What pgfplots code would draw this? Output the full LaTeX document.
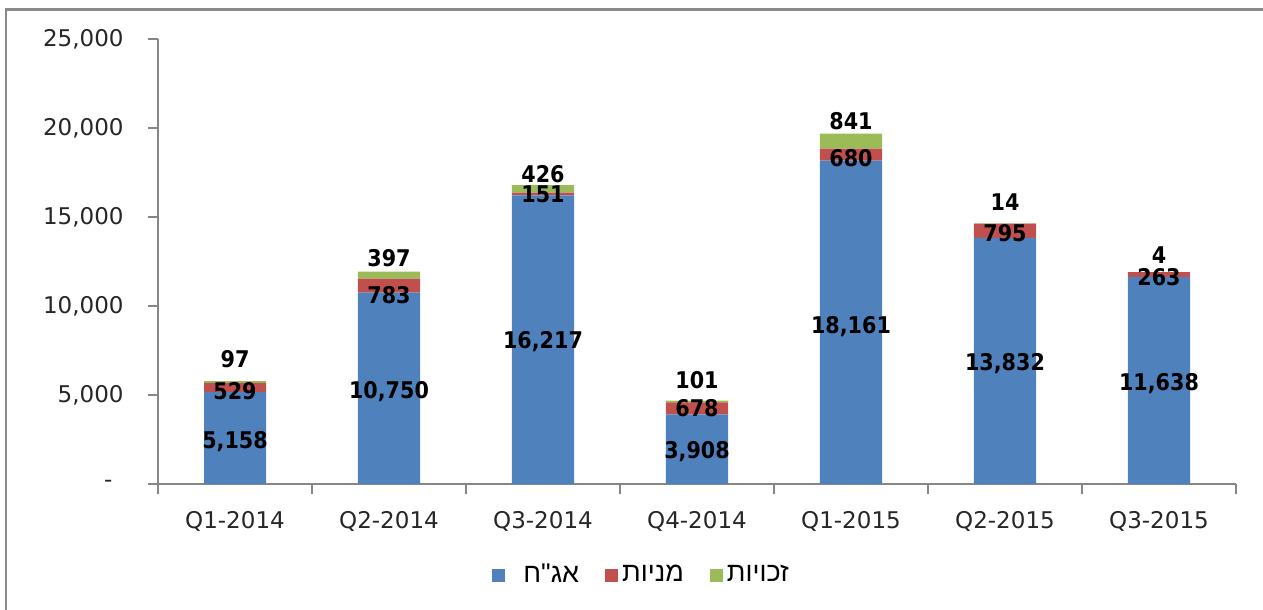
\documentclass[border=0pt]{standalone}
\usepackage{pgfplots}
\pgfplotsset{compat=1.18}
\usepackage{pgfplotstable}
\usepackage{fontspec}
\setmainfont{DejaVu Sans}
\newfontfamily\lblfont{DejaVu Sans Condensed Bold}
\newfontfamily\hebfont[Script=Hebrew]{Liberation Sans}
\TeXXeTstate=1
\definecolor{cblue}{HTML}{4F81BD}
\definecolor{cred}{HTML}{C0504D}
\definecolor{cgreen}{HTML}{9BBB59}
\definecolor{axgray}{HTML}{868686}
\definecolor{framegray}{HTML}{8A8A8A}
\pgfplotstableread{
x ags man zch la lm lz
0 5158 529 97 2472 5225 7022
1 10750 783 397 5281 10618 12697
2 16217 151 426 8090 16292 17416
3 3908 678 101 1910 4270 5843
4 18161 680 841 8933 18315 20393
5 13832 795 14 6854 14101 15843
6 11638 263 4 5730 11629 12865
}\data
\begin{document}
\begin{tikzpicture}
\begin{axis}[
  at={(79pt,63pt)}, anchor=south west, scale only axis,
  width=539pt, height=222.5pt,
  xmin=-0.5, xmax=6.5, ymin=0, ymax=25000,
  scaled y ticks=false,
  ybar stacked, bar width=31pt,
  axis x line*=bottom, axis y line*=left,
  axis line style={color=axgray, line width=0.75pt},
  tick style={color=axgray, line width=0.75pt},
  tick align=outside, major tick length=5pt,
  xtick={-0.5,0.5,1.5,2.5,3.5,4.5,5.5,6.5},
  x tick label as interval,
  xticklabels={Q1-2014,Q2-2014,Q3-2014,Q4-2014,Q1-2015,Q2-2015,Q3-2015},
  ytick={0,5000,10000,15000,20000,25000},
  yticklabels={{-\kern5.5pt},{5,000},{10,000},{15,000},{20,000},{25,000}},
  ticklabel style={font=\fontsize{11.5}{13}\selectfont, text=black!85},
  yticklabel style={xshift=-8.7pt},
  xticklabel style={yshift=-5pt},
  legend style={at={(0.4496,-0.2045)}, anchor=center, draw=none, fill=none,
    legend columns=3, font=\hebfont\fontsize{13.5}{15}\selectfont,
    /tikz/every even column/.append style={column sep=11pt},
    nodes={inner sep=2pt}},
  legend cell align=left,
]
\addplot[fill=cblue, draw=none, legend image code/.code={\fill[cblue] (0pt,-3.25pt) rectangle (6.5pt,3.25pt);}] table[x=x, y=ags] {\data};
\addlegendentry{\hspace*{7pt}\beginR אג"ח\endR}
\addplot[fill=cred, draw=none, legend image code/.code={\fill[cred] (0pt,-3.25pt) rectangle (6.5pt,3.25pt);}] table[x=x, y=man] {\data};
\addlegendentry{\beginR מניות\endR}
\addplot[fill=cgreen, draw=none, legend image code/.code={\fill[cgreen] (0pt,-3.25pt) rectangle (6.5pt,3.25pt);}] table[x=x, y=zch] {\data};
\addlegendentry{\beginR זכויות\endR}
\end{axis}
\begin{axis}[
  at={(79pt,63pt)}, anchor=south west, scale only axis,
  width=539pt, height=222.5pt,
  xmin=-0.5, xmax=6.5, ymin=0, ymax=25000,
  hide axis, clip=false,
  every axis plot/.append style={only marks, mark=*, mark size=0pt,
    mark options={draw=none, fill=none}, point meta=explicit,
    nodes near coords={\pgfmathprintnumber[fixed,precision=0,1000 sep={,},assume math mode=true]{\pgfplotspointmeta}},
    nodes near coords style={anchor=center, font=\lblfont\fontsize{11.5}{13}\selectfont, text=black, text depth=0pt, inner sep=0pt}},
]
\addplot table[x=x, y=la, meta=ags] {\data};
\addplot table[x=x, y=lm, meta=man] {\data};
\addplot table[x=x, y=lz, meta=zch] {\data};
\end{axis}
\draw[color=framegray, line width=1.25pt] (3pt,-10pt) -- (3pt,300.25pt) -- (650pt,300.25pt);
\pgfresetboundingbox
\useasboundingbox (0,0) rectangle (631.5pt,305pt);
\end{tikzpicture}
\end{document}
